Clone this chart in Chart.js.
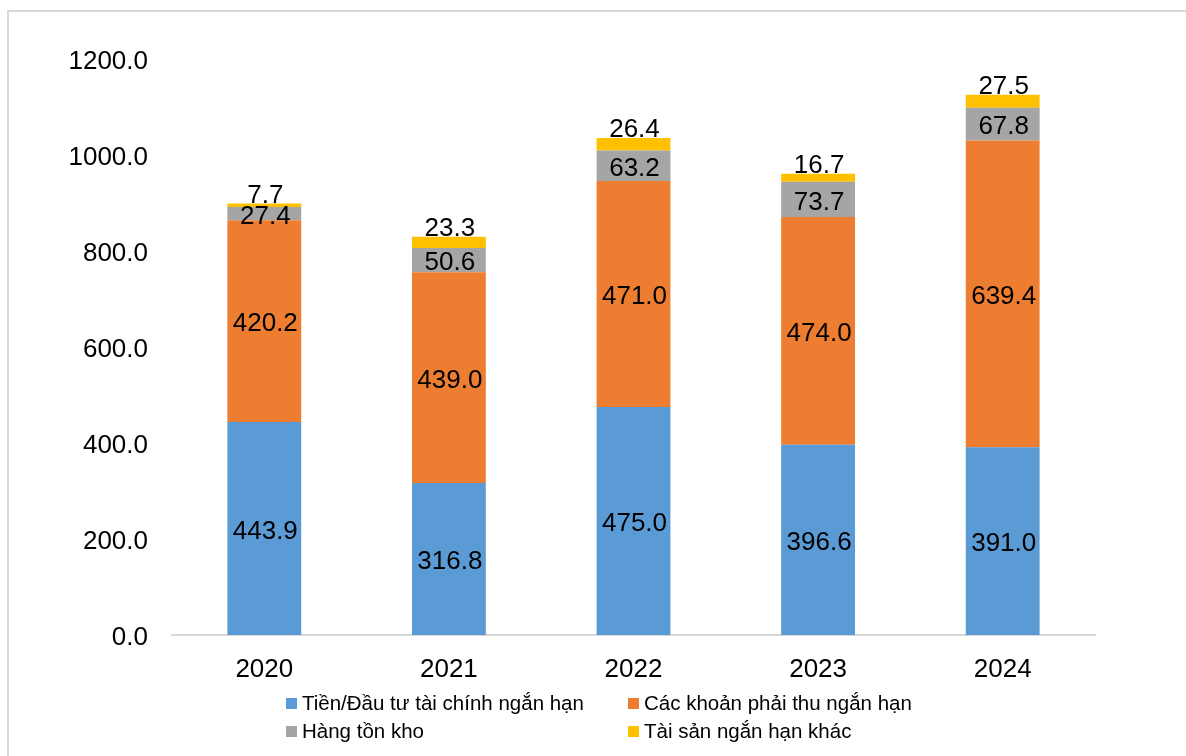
<!DOCTYPE html>
<html>
<head>
<meta charset="utf-8">
<script src="https://cdn.jsdelivr.net/npm/chart.js@4.4.1/dist/chart.umd.min.js"></script>
<style>
  html, body { margin: 0; padding: 0; background: #fff; overflow: hidden; }
  body { width: 1186px; height: 756px; position: relative; font-family: "Liberation Sans", Arial, sans-serif; }
  #frame { position: absolute; left: 7px; top: 10px; width: 1300px; height: 900px; border: 2px solid #d9d9d9; box-sizing: border-box; }
  #wrap { position: absolute; left: 0; top: 0; width: 1186px; height: 756px; }
  .legend { position: absolute; font-size: 20.5px; color: #000; white-space: nowrap; line-height: 24px; }
  .legend .sw { display: inline-block; width: 11px; height: 11px; margin-right: 5px; vertical-align: 1px; }
</style>
</head>
<body>
<div id="frame"></div>
<div id="wrap"><canvas id="chart" width="1186" height="756"></canvas></div>
<div id="legend"></div>
<script>
// Năm báo cáo
const years = ['2020', '2021', '2022', '2023', '2024'];

// Cơ cấu tài sản ngắn hạn theo năm
const tienDauTu = [443.9, 316.8, 475.0, 396.6, 391.0];
const phaiThu = [420.2, 439.0, 471.0, 474.0, 639.4];
const hangTonKho = [27.4, 50.6, 63.2, 73.7, 67.8];
const taiSanKhac = [7.7, 23.3, 26.4, 16.7, 27.5];

const seriesNames = [
  'Tiền/Đầu tư tài chính ngắn hạn',
  'Các khoản phải thu ngắn hạn',
  'Hàng tồn kho',
  'Tài sản ngắn hạn khác'
];
const seriesColors = ['#5B9BD5', '#ED7D31', '#A5A5A5', '#FFC000'];

// Trục tung
const yMin = 0, yMax = 1200, yStep = 200;

const FONT = '"Liberation Sans", Arial, sans-serif';

// Nhãn giá trị cho từng đoạn cột; đoạn trên cùng đặt sát phía trên cột
const valueLabels = {
  id: 'valueLabels',
  afterDatasetsDraw(chart) {
    const ctx = chart.ctx;
    ctx.save();
    ctx.font = '26px ' + FONT;
    ctx.fillStyle = '#000';
    ctx.textAlign = 'center';
    ctx.textBaseline = 'middle';
    const last = chart.data.datasets.length - 1;
    chart.data.datasets.forEach((ds, di) => {
      const meta = chart.getDatasetMeta(di);
      meta.data.forEach((bar, i) => {
        const v = ds.data[i];
        const top = Math.min(bar.y, bar.base);
        const bottom = Math.max(bar.y, bar.base);
        let y = (top + bottom) / 2 + 2;
        if (di === last) y = top - 9;
        ctx.fillText(v.toFixed(1), bar.x + 1, y + 1);
      });
    });
    ctx.restore();
  }
};

const datasets = [tienDauTu, phaiThu, hangTonKho, taiSanKhac].map((arr, k) => ({
  label: seriesNames[k],
  data: arr,
  backgroundColor: seriesColors[k],
  borderWidth: 0,
  barPercentage: 0.4,
  categoryPercentage: 1.0
}));

new Chart(document.getElementById('chart'), {
  type: 'bar',
  data: { labels: years, datasets },
  options: {
    responsive: false,
    animation: false,
    layout: { padding: { left: 0, top: 59, right: 91, bottom: 0 } },
    plugins: { legend: { display: false }, tooltip: { enabled: false } },
    scales: {
      x: {
        stacked: true,
        grid: { display: false, drawTicks: false },
        border: { display: true, color: '#d9d9d9', width: 2 },
        ticks: { color: '#000', font: { family: FONT, size: 26 }, padding: 19 },
        afterFit(scale) { scale.height = 121; }
      },
      y: {
        stacked: true,
        min: yMin,
        max: yMax,
        grid: { display: false, drawTicks: false },
        border: { display: false },
        ticks: {
          stepSize: yStep,
          color: '#000',
          font: { family: FONT, size: 26 },
          padding: 24,
          labelOffset: 3,
          callback: v => Number(v).toFixed(1)
        },
        afterFit(scale) { scale.width = 172; }
      }
    }
  },
  plugins: [valueLabels]
});

// Chú thích hai cột, hai hàng
const legendPos = [
  { left: 286, top: 691 },
  { left: 628, top: 691 },
  { left: 286, top: 719 },
  { left: 628, top: 719 }
];
const legendEl = document.getElementById('legend');
seriesNames.forEach((name, k) => {
  const item = document.createElement('div');
  item.className = 'legend';
  item.style.left = legendPos[k].left + 'px';
  item.style.top = legendPos[k].top + 'px';
  const sw = document.createElement('span');
  sw.className = 'sw';
  sw.style.background = seriesColors[k];
  item.appendChild(sw);
  item.appendChild(document.createTextNode(name));
  legendEl.appendChild(item);
});
</script>
</body>
</html>
